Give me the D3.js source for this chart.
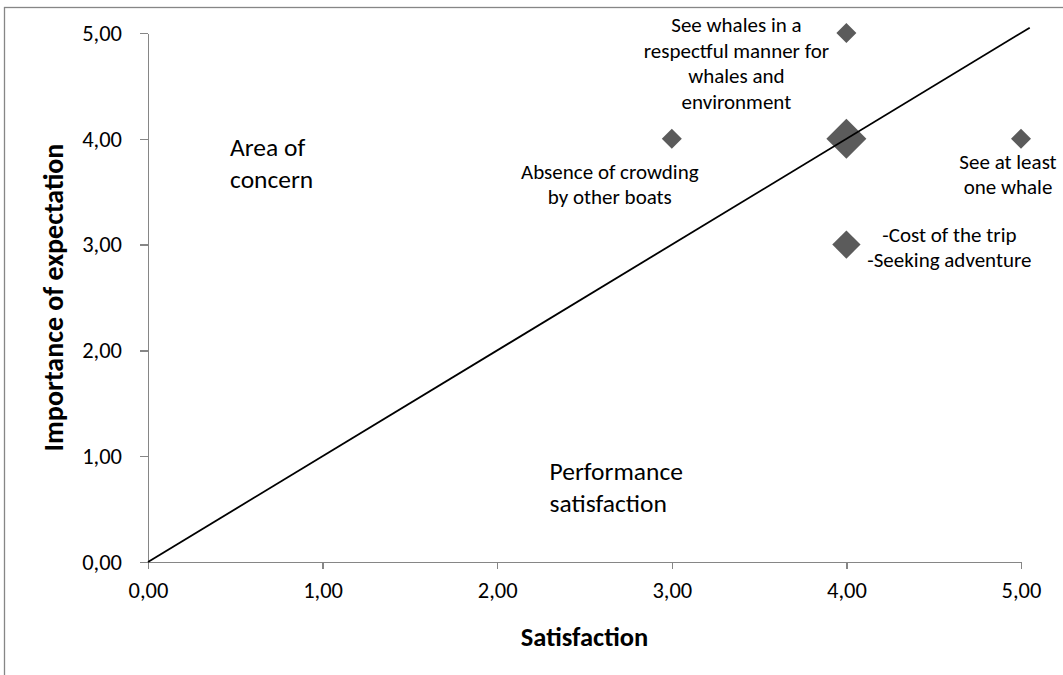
<!DOCTYPE html>
<html>
<head>
<meta charset="utf-8">
<script src="https://cdn.jsdelivr.net/npm/d3@7"></script>
<style>
  body { margin: 0; background: #fff; }
  svg { display: block; font-family: Carlito, Calibri, Lato, sans-serif; }
  .axis path, .axis line { stroke: #868686; stroke-width: 1.3px; shape-rendering: crispEdges; }
  .axis text { fill: #000; font-size: 22.5px; font-family: Carlito, Calibri, Lato, sans-serif; }
</style>
</head>
<body>
<svg id="chart" width="1063" height="675"></svg>
<script>
// values
const satisfaction = [3, 4, 4, 4, 5];
const importance   = [4, 5, 4, 3, 4];
const itemCount    = [1, 1, 4, 2, 1];   // drives marker size
const pointLabels  = [
    ["Absence of crowding", "by other boats"],
    ["See whales in a", "respectful manner for", "whales and", "environment"],
    [],
    ["-Cost of the trip", "-Seeking adventure"],
    ["See at least", "one whale"]
];
const diagonalX = [0, 5.05];
const diagonalY = [0, 5.05];
const tickValues = [0, 1, 2, 3, 4, 5];

const margin = {top: 33, right: 42, bottom: 113, left: 148};
const chartWidth = 1063, chartHeight = 675;
const width = chartWidth - margin.left - margin.right;
const height = chartHeight - margin.top - margin.bottom;

const svg = d3.select("#chart");

// outer chart frame (runs off the right and bottom of the picture)
svg.append("rect")
    .attr("x", 4.5).attr("y", 7.5)
    .attr("width", 1100).attr("height", 700)
    .attr("fill", "none").attr("stroke", "#868686").attr("stroke-width", 1.3);

const chart = svg.append("g")
    .attr("transform", "translate(" + margin.left + "," + margin.top + ")");

const x = d3.scaleLinear().domain([0, 5]).range([0, width]);
const y = d3.scaleLinear().domain([0, 5]).range([height, 0]);
const size = d3.scaleSqrt().domain([0, 1]).range([0, 10]);

const fmt = d => d.toFixed(2).replace(".", ",");

chart.append("g")
    .attr("class", "x axis")
    .attr("transform", "translate(0," + height + ")")
    .call(d3.axisBottom(x).tickValues(tickValues).tickFormat(fmt).tickSize(7).tickSizeOuter(0).tickPadding(13));

chart.append("g")
    .attr("class", "y axis")
    .call(d3.axisLeft(y).tickValues(tickValues).tickFormat(fmt).tickSize(8).tickSizeOuter(0).tickPadding(18));

const points = satisfaction.map((s, i) => ({
    x: s, y: importance[i], n: itemCount[i], label: pointLabels[i]
}));

// diamonds
chart.selectAll(".marker")
    .data(points)
    .enter().append("path")
    .attr("class", "marker")
    .attr("transform", d => "translate(" + x(d.x) + "," + y(d.y) + ")")
    .attr("d", d => {
        const r = size(d.n);
        return "M0," + (-r) + "L" + r + ",0L0," + r + "L" + (-r) + ",0Z";
    })
    .attr("fill", "#5b5b5b");

// diagonal reference line
chart.append("path")
    .datum(diagonalX.map((v, i) => [v, diagonalY[i]]))
    .attr("d", d3.line().x(d => x(d[0])).y(d => y(d[1])))
    .attr("fill", "none")
    .attr("stroke", "#000")
    .attr("stroke-width", 1.8);

// label offsets from their marker, in pixels
const labelOffset = [
    {dx: -62, dy: 40},
    {dx: -110, dy: -1},
    {dx: 0, dy: 0},
    {dx: 103, dy: -3},
    {dx: -13, dy: 30}
];
const lineGap = 25.5;

const labels = chart.selectAll(".point-label")
    .data(points)
    .enter().append("text")
    .attr("class", "point-label")
    .attr("text-anchor", "middle")
    .attr("font-size", "21px")
    .attr("transform", (d, i) => "translate(" + (x(d.x) + labelOffset[i].dx) + "," + (y(d.y) + labelOffset[i].dy) + ")");

labels.selectAll("tspan")
    .data(d => d.label)
    .enter().append("tspan")
    .attr("x", 0)
    .attr("y", (d, i) => i * lineGap)
    .text(d => d);

// zone captions
const zones = [
    {x: 0.47, y: 3.77, lines: ["Area of", "concern"]},
    {x: 2.3, y: 0.71, lines: ["Performance", "satisfaction"]}
];
const zoneText = chart.selectAll(".zone")
    .data(zones)
    .enter().append("text")
    .attr("class", "zone")
    .attr("font-size", "25.5px")
    .attr("transform", d => "translate(" + x(d.x) + "," + y(d.y) + ")");
zoneText.selectAll("tspan")
    .data(d => d.lines)
    .enter().append("tspan")
    .attr("x", 0)
    .attr("y", (d, i) => i * 32 - 7)
    .text(d => d);

// axis titles
chart.append("text")
    .attr("x", width / 2)
    .attr("y", height + 84)
    .attr("text-anchor", "middle")
    .attr("font-size", "26.5px")
    .attr("font-weight", "bold")
    .text("Satisfaction");

chart.append("text")
    .attr("transform", "translate(" + (-85) + "," + (height / 2) + ") rotate(-90)")
    .attr("text-anchor", "middle")
    .attr("font-size", "28px")
    .attr("font-weight", "bold")
    .text("Importance of expectation");
</script>
</body>
</html>
